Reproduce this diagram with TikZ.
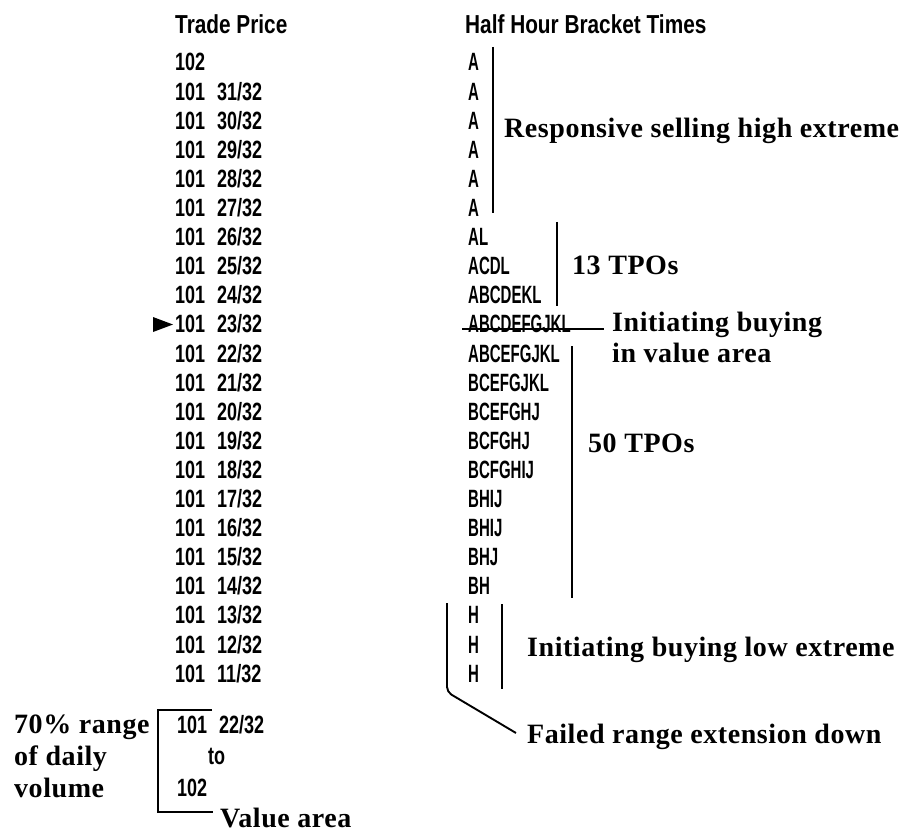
\documentclass[tikz,border=0pt]{standalone}
\usepackage{fontspec}
\newfontfamily\hdrfam{Liberation Sans}[UprightFont={* Bold},FakeStretch=0.8]
\newfontfamily\numfam{Liberation Sans}[UprightFont={* Bold},FakeStretch=0.72,WordSpace=2.4]
\newfontfamily\letfam{Liberation Sans}[UprightFont={* Bold},FakeStretch=0.6]
\newfontfamily\serfam{Liberation Serif}[UprightFont={* Bold},LetterSpace=2]
\begin{document}
\begin{tikzpicture}[x=1pt,y=-1pt,
  hdr/.style={anchor=base west,inner sep=0pt,font=\hdrfam\fontsize{26}{30}\selectfont},
  num/.style={anchor=base west,inner sep=0pt,font=\numfam\fontsize{25}{29}\selectfont},
  tpo/.style={anchor=base west,inner sep=0pt,font=\letfam\fontsize{25}{29}\selectfont},
  lbl/.style={anchor=base west,inner sep=0pt,font=\serfam\fontsize{28}{32}\selectfont},
  brk/.style={line width=1.9pt},
  strike/.style={line width=2pt}]
\useasboundingbox (0,0) rectangle (903,832);

% headers
\node[hdr] (hprice) at (175,34) {Trade Price};
\node[hdr] (htime) at (465,34) {Half Hour Bracket Times};

% price column
\node[num] (p0) at (175,71) {102};
\foreach \i in {1,...,21}{
  \pgfmathtruncatemacro\f{32-\i}
  \node[num] (p\i) at (175,{71+29.1*\i}) {101 \f/32};
}
% marker arrow
\fill (153,317) -- (173,324.5) -- (153,332) -- cycle;

% TPO letters column
\foreach \i/\s in {0/A,1/A,2/A,3/A,4/A,5/A,6/AL,7/ACDL,8/ABCDEKL,9/ABCDEFGJKL,
  10/ABCEFGJKL,11/BCEFGJKL,12/BCEFGHJ,13/BCFGHJ,14/BCFGHIJ,15/BHIJ,16/BHIJ,
  17/BHJ,18/BH,19/H,20/H,21/H}{
  \node[tpo] (t\i) at (468,{71+29.1*\i}) {\s};
}

% responsive selling bracket
\coordinate (r1) at (493,47);
\coordinate (r2) at (493,213);
\draw[brk] (r1) -- (r2);
\node[lbl] (resp) at (504,138) {Responsive selling high extreme};

% 13 TPOs
\coordinate (a1) at (557,222);
\coordinate (a2) at (557,306);
\draw[brk] (a1) -- (a2);
\node[lbl] (tpo13) at (572,274) {13 TPOs};

% strike-through and initiating buying
\coordinate (s1) at (462,329);
\coordinate (s2) at (604,329);
\draw[strike] (s1) -- (s2);
\node[lbl] (init1) at (612,331) {Initiating buying};
\node[lbl] (init2) at (612,362) {in value area};

% 50 TPOs
\coordinate (b1) at (572,346);
\coordinate (b2) at (572,598);
\draw[brk] (b1) -- (b2);
\node[lbl] (tpo50) at (588,452) {50 TPOs};

% low extreme
\coordinate (l1) at (502,604);
\coordinate (l2) at (502,689);
\draw[brk] (l1) -- (l2);
\node[lbl] (low) at (527,656) {Initiating buying low extreme};

% failed range extension
\coordinate (f1) at (447,603);
\coordinate (f2) at (447,692);
\coordinate (f3) at (516,733);
\draw[brk,rounded corners=5pt] (f1) -- (f2) -- (f3);
\node[lbl] (failed) at (527,743) {Failed range extension down};

% value area block
\node[lbl] (v1) at (14,733) {70\% range};
\node[lbl] (v2) at (14,765) {of daily};
\node[lbl] (v3) at (14,797) {volume};
\coordinate (vb1) at (212,710);
\coordinate (vb2) at (158,710);
\coordinate (vb3) at (158,812);
\coordinate (vb4) at (213,812);
\draw[brk] (vb1) -- (vb2) -- (vb3) -- (vb4);
\node[num] (va1) at (177,733) {101 22/32};
\node[num] (va2) at (208,764) {to};
\node[num] (va3) at (177,796) {102};
\node[lbl] (value) at (220,827) {Value area};
\end{tikzpicture}
\end{document}
